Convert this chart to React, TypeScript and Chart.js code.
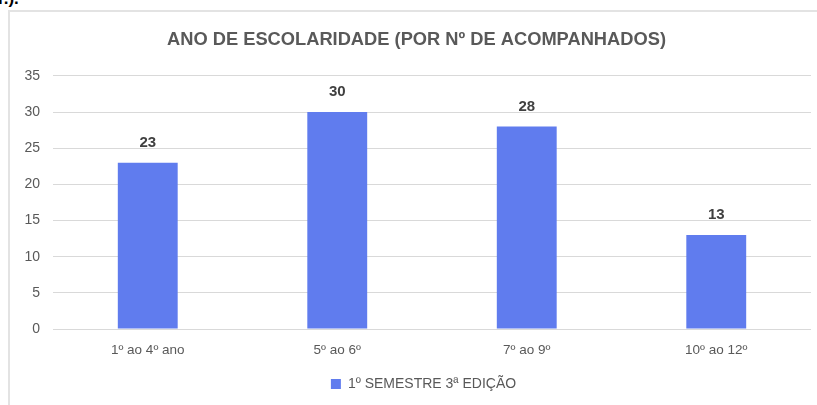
import React, { useEffect, useRef } from "react";
import { Chart, registerables } from "chart.js";

Chart.register(...registerables);

const categories = ["1º ao 4º ano", "5º ao 6º", "7º ao 9º", "10º ao 12º"];
const seriesName = "1º SEMESTRE 3ª EDIÇÃO";
const seriesValues = [23, 30, 28, 13];
const chartTitle = "ANO DE ESCOLARIDADE (POR Nº DE ACOMPANHADOS)";
const yMin = 0;
const yMax = 35;
const yStep = 5;

const FONT = "'Liberation Sans', Arial, sans-serif";

const valueLabels = {
  id: "valueLabels",
  afterDatasetsDraw(chart: any) {
    const ctx = chart.ctx;
    ctx.save();
    ctx.font = `bold 15px ${FONT}`;
    ctx.fillStyle = "#404040";
    ctx.textAlign = "center";
    ctx.textBaseline = "middle";
    chart.data.datasets.forEach((ds: any, i: number) => {
      const meta = chart.getDatasetMeta(i);
      meta.data.forEach((bar: any, j: number) => {
        ctx.fillText(String(ds.data[j]), bar.x, bar.y - 20);
      });
    });
    ctx.restore();
  },
};

// nudges the centred title and legend horizontally to match the reference
const boxShift = {
  id: "boxShift",
  afterUpdate(chart: any) {
    if (chart.titleBlock) {
      chart.titleBlock.left += 6;
      chart.titleBlock.right += 6;
    }
    if (chart.legend) {
      chart.legend.left += 13;
      chart.legend.right += 13;
    }
  },
};

export default function App() {
  const ref = useRef<HTMLCanvasElement | null>(null);
  useEffect(() => {
    if (!ref.current) return;
    const chart = new Chart(ref.current, {
      type: "bar",
      data: {
        labels: categories,
        datasets: [
          {
            label: seriesName,
            data: seriesValues,
            backgroundColor: "rgb(96,124,238)",
            borderWidth: 0,
            barPercentage: 0.4,
            categoryPercentage: 0.79,
          },
        ],
      },
      plugins: [valueLabels, boxShift],
      options: {
        animation: false,
        responsive: false,
        maintainAspectRatio: false,
        layout: { padding: { top: 18, right: 6, bottom: 4, left: 0 } },
        plugins: {
          title: {
            display: true,
            text: chartTitle,
            color: "#595959",
            font: { family: FONT, size: 18.3, weight: "bold" },
            padding: { top: 0, bottom: 25 },
          },
          legend: {
            display: true,
            position: "bottom",
            labels: {
              boxWidth: 10,
              boxHeight: 10,
              color: "#595959",
              font: { family: FONT, size: 14 },
              padding: 10,
            },
          },
          tooltip: { enabled: false },
        },
        scales: {
          x: {
            grid: { display: false, drawTicks: false },
            border: { display: false },
            ticks: {
              color: "#595959",
              font: { family: FONT, size: 13.5 },
              padding: 13,
            },
            afterFit: (scale: any) => {
              scale.height = 38;
            },
          },
          y: {
            min: yMin,
            max: yMax,
            grid: { color: "#d9d9d9", drawTicks: false, lineWidth: 1 },
            border: { display: false },
            ticks: {
              stepSize: yStep,
              color: "#595959",
              font: { family: FONT, size: 14 },
              padding: 13,
            },
            afterFit: (scale: any) => {
              scale.width = 43;
            },
          },
        },
      },
    });
    return () => chart.destroy();
  }, []);

  return (
    <div
      style={{
        position: "fixed",
        left: 0,
        top: 0,
        width: 817,
        height: 405,
        background: "#fff",
        overflow: "hidden",
      }}
    >
      <div
        style={{
          position: "absolute",
          left: -2,
          top: -11,
          fontFamily: FONT,
          fontWeight: "bold",
          fontSize: 17,
          color: "#000",
          whiteSpace: "nowrap",
        }}
      >
        r.).
      </div>
      <div
        style={{
          position: "absolute",
          left: 8,
          top: 10,
          width: 830,
          height: 420,
          borderLeft: "2px solid #e3e3e3",
          borderTop: "2px solid #e3e3e3",
          boxSizing: "border-box",
        }}
      />
      <canvas
        ref={ref}
        width={807}
        height={394}
        style={{ position: "absolute", left: 10, top: 11, width: 807, height: 394 }}
      />
    </div>
  );
}
